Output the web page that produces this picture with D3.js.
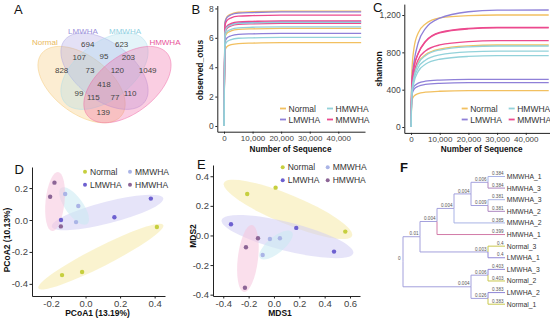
<!DOCTYPE html>
<html lang="en">
<head>
<meta charset="utf-8">
<title>OTU overlap, rarefaction, ordination and clustering</title>
<style>
  html,body { margin:0; padding:0; background:#fff; }
  svg { display:block; font-family:"Liberation Sans", Arial, sans-serif; }
</style>
<script src="https://d3js.org/d3.v7.min.js"></script>
</head>
<body>
<svg width="550" height="320"></svg>
<script>
// ---- data ----
const groups = ["Normal", "LMWHA", "MMWHA", "HMWHA"];

// A: venn counts and where they sit (venn units, 0..1)
const vennCounts = [828, 694, 623, 1049, 107, 95, 203, 73, 120, 418, 99, 115, 77, 110, 139];
const vennU = [0.220, 0.390, 0.612, 0.782, 0.335, 0.497, 0.656, 0.405, 0.584, 0.497, 0.333, 0.427, 0.569, 0.667, 0.492];
const vennV = [0.579, 0.771, 0.771, 0.579, 0.674, 0.683, 0.674, 0.579, 0.579, 0.472, 0.405, 0.375, 0.375, 0.405, 0.263];

// B / C: rarefaction, sequencing depth vs index, 3 samples per group
const depths = [0, 300, 1000, 2500, 5000, 10000, 20000, 30000, 48000];
const otusNormal = [
  [0, 7.04, 7.43, 7.62, 7.74, 7.78, 7.82, 7.82, 7.82],
  [0, 5.98, 6.31, 6.47, 6.57, 6.61, 6.64, 6.64, 6.64],
  [0, 5.10, 5.39, 5.53, 5.61, 5.64, 5.67, 5.67, 5.67]];
const otusLMWHA = [
  [0, 6.98, 7.37, 7.57, 7.68, 7.72, 7.76, 7.76, 7.76],
  [0, 6.38, 6.74, 6.91, 7.02, 7.05, 7.09, 7.09, 7.09],
  [0, 5.67, 5.99, 6.14, 6.24, 6.27, 6.30, 6.30, 6.30]];
const otusMMWHA = [
  [0, 6.80, 7.17, 7.36, 7.47, 7.51, 7.55, 7.55, 7.55],
  [0, 6.44, 6.80, 6.98, 7.09, 7.12, 7.16, 7.16, 7.16],
  [0, 6.28, 6.63, 6.81, 6.91, 6.95, 6.98, 6.98, 6.98]];
const otusHMWHA = [
  [0, 6.35, 6.70, 6.87, 6.98, 7.01, 7.05, 7.05, 7.05],
  [0, 6.08, 6.41, 6.58, 6.68, 6.72, 6.75, 6.75, 6.75],
  [0, 5.43, 5.73, 5.88, 5.97, 6.00, 6.03, 6.03, 6.03]];

const shannonNormal = [
  [0, 600, 840, 1008, 1104, 1170, 1194, 1200, 1200],
  [0, 396, 545, 686, 774, 835, 870, 879, 879],
  [0, 280, 331, 358, 373, 383, 389, 389, 389]];
const shannonLMWHA = [
  [0, 502, 690, 903, 1053, 1166, 1235, 1252, 1254],
  [0, 368, 434, 470, 491, 503, 511, 511, 511],
  [0, 342, 404, 437, 456, 468, 475, 475, 475]];
const shannonMMWHA = [
  [0, 481, 641, 790, 918, 1015, 1057, 1068, 1068],
  [0, 478, 637, 786, 913, 1009, 1051, 1062, 1062],
  [0, 416, 574, 722, 814, 879, 916, 925, 925]];
const shannonHMWHA = [
  [0, 390, 538, 677, 764, 825, 859, 868, 868],
  [0, 366, 505, 635, 716, 773, 806, 814, 814],
  [0, 344, 474, 596, 672, 726, 756, 764, 764]];

// D: PCoA scores (3 samples per group, same order as groups)
const pcoaX = [[0.413, -0.020, -0.136], [0.378, 0.167, -0.142], [-0.118, -0.042, -0.055], [-0.180, -0.205, -0.143]];
const pcoaY = [[-0.044, -0.326, -0.345], [0.134, 0.017, 0.000], [0.163, 0.088, -0.013], [0.234, 0.146, -0.040]];
// group ellipses: long-axis end points in score units + width ratio
const pcoaHull = [
  [-0.273, -0.428, 0.450, -0.031, 0.14],
  [-0.195, -0.042, 0.450, 0.136, 0.19],
  [-0.142, 0.201, 0.009, -0.025, 0.40],
  [-0.159, 0.301, -0.194, -0.069, 0.32]];

// E: NMDS scores
const mdsX = [[-0.211, 0.013, 0.563], [-0.339, 0.176, 0.474], [-0.032, 0.047, -0.089], [-0.126, -0.221, -0.229]];
const mdsY = [[0.280, 0.323, 0.026], [0.076, 0.051, -0.109], [-0.024, -0.019, -0.132], [-0.019, -0.080, -0.353]];
const mdsHull = [
  [-0.395, 0.355, 0.616, -0.003, 0.21],
  [-0.413, 0.105, 0.626, -0.120, 0.21],
  [-0.110, -0.152, 0.142, 0.024, 0.40],
  [-0.174, 0.071, -0.237, -0.382, 0.30]];

// F: clustering tree, branch lengths shown as labels
const treeData = {len: "0", children: [
  {len: "0.01", children: [
    {len: "0.004", children: [
      {len: "0.004", children: [
        {len: "0.004", children: [
          {len: "0.006", children: [{name: "MMWHA_1", len: "0.384"}, {name: "HMWHA_3", len: "0.384"}]},
          {len: "0.009", children: [{name: "MMWHA_3", len: "0.381"}, {name: "HMWHA_2", len: "0.381"}]}
        ]},
        {name: "MMWHA_2", len: "0.385"}
      ]},
      {name: "HMWHA_1", len: "0.399"}
    ]},
    {len: "0.003", children: [{name: "Normal_3", len: "0.4"}, {name: "LMWHA_1", len: "0.4"}]}
  ]},
  {len: "0.004", children: [
    {len: "0.006", children: [{name: "LMWHA_3", len: "0.403"}, {name: "Normal_2", len: "0.403"}]},
    {len: "0.026", children: [{name: "LMWHA_2", len: "0.383"}, {name: "Normal_1", len: "0.383"}]}
  ]}
]};

// ---- colours ----
const vennFill  = {Normal: "#f4c36a", LMWHA: "#a59ce0", MMWHA: "#a6dcea", HMWHA: "#ee5c9e"};
const vennLabel = {Normal: "#eab95c", LMWHA: "#9b90da", MMWHA: "#8fd0e2", HMWHA: "#e8559a"};
const lineCol   = {Normal: "#f2c060", LMWHA: "#8f80d8", MMWHA: "#ec4a8e", HMWHA: "#93d2da"};
const dotCol    = {Normal: "#c6cf3e", LMWHA: "#6d60d0", MMWHA: "#aab4e6", HMWHA: "#8c6596"};
const hullCol   = {Normal: "#f6eaa8", LMWHA: "#d2cdf4", MMWHA: "#c8e9f2", HMWHA: "#f5c4dc"};
const treeCol   = {Normal: "#c9c84e", LMWHA: "#8f86d6", MMWHA: "#a9b3e6", HMWHA: "#ad86c0", inner: "#a3a0dc"};

const svg = d3.select("svg");
const FONT = '"Liberation Sans", Arial, sans-serif';

function letter(t, x, y, bold) {
  svg.append("text").attr("x", x).attr("y", y).text(t)
    .attr("font-size", 13).attr("font-weight", bold ? "bold" : "normal").attr("fill", "#111");
}
function styleAxis(g, size) {
  g.attr("font-family", FONT).attr("font-size", size);
  g.select(".domain").attr("stroke", "#222").attr("stroke-width", 1);
  g.selectAll(".tick line").attr("stroke", "#222");
  g.selectAll(".tick text").attr("fill", "#444");
}
function title(t, x, y, rot, size) {
  svg.append("text").text(t).attr("font-size", size || 8.5).attr("font-weight", "bold")
    .attr("fill", "#111").attr("text-anchor", "middle")
    .attr("transform", `translate(${x},${y})` + (rot ? " rotate(-90)" : ""));
}

// ---- A: venn ----
const vx = d3.scaleLinear().domain([0, 1]).range([104.5 - 76.5, 104.5 + 76.5]);
const vy = d3.scaleLinear().domain([0.855, 0.185]).range([33, 122.8]);
const vennShape = [[0.35, 0.47, 135], [0.5, 0.57, 135], [0.5, 0.57, 45], [0.65, 0.47, 45]];
const ell = d3.line().curve(d3.curveLinearClosed);
vennShape.forEach(([cx, cy, rot], i) => {
  const th = rot * Math.PI / 180, pts = [];
  for (let k = 0; k < 90; k++) {
    const t = k / 90 * 2 * Math.PI;
    const u = cx + 0.35 * Math.cos(t) * Math.cos(th) - 0.2 * Math.sin(t) * Math.sin(th);
    const v = cy + 0.35 * Math.cos(t) * Math.sin(th) + 0.2 * Math.sin(t) * Math.cos(th);
    pts.push([vx(u), vy(v)]);
  }
  svg.append("path").attr("d", ell(pts))
    .attr("fill", vennFill[groups[i]]).attr("fill-opacity", 0.3)
    .attr("stroke", vennFill[groups[i]]).attr("stroke-opacity", 0.55).attr("stroke-width", 0.8);
});
const vennLabU = [0.110, 0.359, 0.634, 0.895], vennLabV = [0.790, 0.872, 0.872, 0.790];
groups.forEach((g, i) => {
  svg.append("text").attr("x", vx(vennLabU[i])).attr("y", vy(vennLabV[i]) + 3).text(g)
    .attr("text-anchor", "middle").attr("font-size", 8).attr("fill", vennLabel[g]);
});
vennCounts.forEach((c, i) => {
  svg.append("text").attr("x", vx(vennU[i])).attr("y", vy(vennV[i]) + 3).text(c)
    .attr("text-anchor", "middle").attr("font-size", 8).attr("fill", "#444");
});
letter("A", 14, 13.5);

// ---- B & C: rarefaction ----
function rarePanel(o) {
  const x = d3.scaleLinear().domain([-2350, 49350]).range(o.xr);
  const y = d3.scaleLinear().domain(o.yd).range(o.yr);
  const line = d3.line().x((d, i) => x(depths[i])).y(d => y(d)).curve(d3.curveMonotoneX);
  groups.forEach(g => o.series[g].forEach(s => {
    svg.append("path").attr("d", line(s)).attr("fill", "none")
      .attr("stroke", lineCol[g]).attr("stroke-width", 1.3);
  }));
  const gx = svg.append("g").attr("transform", `translate(0,${o.yr[0]})`)
    .call(d3.axisBottom(x).tickValues([0, 10000, 20000, 30000, 40000]).tickFormat(d3.format(","))
      .tickSize(2).tickSizeOuter(0).tickPadding(1.5));
  styleAxis(gx, 8);
  const gy = svg.append("g").attr("transform", `translate(${o.xr[0]},0)`)
    .call(d3.axisLeft(y).tickValues(o.yt).tickSize(2).tickSizeOuter(0).tickPadding(1.5));
  styleAxis(gy, 8.5);
  title("Number of Sequence", o.xt, 151.5, false, 8.2);
  title(o.ylab, o.ylx, o.yly, true);
  // legend
  const leg = [["Normal", 0, 0], ["HMWHA", 1, 0], ["LMWHA", 0, 1], ["MMWHA", 1, 1]];
  leg.forEach(([g, c, r]) => {
    const lx = o.lx + c * 47, ly = 108.5 + r * 11;
    svg.append("line").attr("x1", lx).attr("x2", lx + 6).attr("y1", ly).attr("y2", ly)
      .attr("stroke", lineCol[g]).attr("stroke-width", 1.8);
    svg.append("text").attr("x", lx + 8.5).attr("y", ly + 3).text(g)
      .attr("font-size", 8.5).attr("fill", "#333");
  });
}
rarePanel({xr: [217.3, 365], yd: [-0.39, 8.2], yr: [131.7, 5.5], yt: [0, 2, 4, 6, 8],
  series: {Normal: otusNormal, LMWHA: otusLMWHA, MMWHA: otusMMWHA, HMWHA: otusHMWHA},
  xt: 290.5, ylab: "observed_otus", ylx: 203, yly: 70, lx: 280});
rarePanel({xr: [404.3, 552.6], yd: [-63, 1317], yr: [132.9, 4.1], yt: [0, 400, 800, 1200],
  series: {Normal: shannonNormal, LMWHA: shannonLMWHA, MMWHA: shannonMMWHA, HMWHA: shannonHMWHA},
  xt: 481.7, ylab: "shannon", ylx: 382, yly: 69, lx: 461.7});
letter("B", 191.5, 13.5);
letter("C", 373, 12);

// ---- D & E: ordinations ----
function ordPanel(o) {
  const x = d3.scaleLinear().domain(o.xd).range(o.xr);
  const y = d3.scaleLinear().domain(o.yd).range(o.yr);
  groups.forEach((g, gi) => {
    const [a1, b1, a2, b2, w] = o.hull[gi];
    const x1 = x(a1), y1 = y(b1), x2 = x(a2), y2 = y(b2);
    const rx = Math.hypot(x2 - x1, y2 - y1) / 2;
    svg.append("ellipse").attr("cx", 0).attr("cy", 0).attr("rx", rx).attr("ry", rx * w)
      .attr("transform", `translate(${(x1 + x2) / 2},${(y1 + y2) / 2}) rotate(${Math.atan2(y2 - y1, x2 - x1) * 180 / Math.PI})`)
      .attr("fill", hullCol[g]).attr("fill-opacity", 0.55);
  });
  groups.forEach((g, gi) => {
    svg.selectAll(null).data(o.px[gi].map((v, i) => [v, o.py[gi][i]])).enter().append("circle")
      .attr("cx", d => x(d[0])).attr("cy", d => y(d[1])).attr("r", 2.2).attr("fill", dotCol[g]);
  });
  const fmt = d => d.toFixed(1);
  const gx = svg.append("g").attr("transform", `translate(0,${o.yr[0]})`)
    .call(d3.axisBottom(x).tickValues(o.xt).tickFormat(fmt).tickSize(2.5).tickSizeOuter(0).tickPadding(1.5));
  styleAxis(gx, 9.5);
  const gy = svg.append("g").attr("transform", `translate(${o.xr[0]},0)`)
    .call(d3.axisLeft(y).tickValues(o.yt).tickFormat(fmt).tickSize(2.5).tickSizeOuter(0).tickPadding(1.5));
  styleAxis(gy, 9.5);
  title(o.xlab, o.xlx, 316);
  title(o.ylab, o.ylx, o.yly, true);
  const leg = [["Normal", 0, 0], ["MMWHA", 1, 0], ["LMWHA", 0, 1], ["HMWHA", 1, 1]];
  leg.forEach(([g, c, r]) => {
    const lx = o.lx + c * 45, ly = o.ly + r * 13;
    svg.append("circle").attr("cx", lx).attr("cy", ly).attr("r", 2).attr("fill", dotCol[g]);
    svg.append("text").attr("x", lx + 5).attr("y", ly + 3).text(g)
      .attr("font-size", 8.5).attr("fill", "#333");
  });
}
ordPanel({xd: [-0.31, 0.46], xr: [32, 165], yd: [-0.476, 0.332], yr: [296, 167],
  xt: [-0.2, 0, 0.2, 0.4], yt: [-0.4, -0.2, 0, 0.2], hull: pcoaHull, px: pcoaX, py: pcoaY,
  xlab: "PCoA1 (13.19%)", xlx: 97.5, ylab: "PCoA2 (10.13%)", ylx: 10, yly: 240, lx: 85, ly: 171.7});
ordPanel({xd: [-0.481, 0.679], xr: [213, 360], yd: [-0.409, 0.476], yr: [296, 165],
  xt: [-0.4, -0.2, 0, 0.2, 0.4, 0.6], yt: [-0.4, -0.2, 0, 0.2, 0.4], hull: mdsHull, px: mdsX, py: mdsY,
  xlab: "MDS1", xlx: 280, ylab: "MDS2", ylx: 196, yly: 236, lx: 282.7, ly: 167.3});
letter("D", 14.5, 173.5);
letter("E", 197, 169);

// ---- F: tree ----
const root = d3.hierarchy(treeData);
d3.cluster().size([12, 6]).separation(() => 1)(root);
const ty = d3.scaleLinear().domain([0.5, 11.5]).range([176.5, 304.2]);
const tx = d3.scaleLinear().domain([0, 6]).range([403, 505]);
const colOf = d => d.data.name ? treeCol[d.data.name.split("_")[0]] : treeCol.inner;
svg.append("g").selectAll("path").data(root.links()).enter().append("path")
  .attr("d", l => `M${tx(l.source.y)},${ty(l.source.x)}V${ty(l.target.x)}H${tx(l.target.y)}`)
  .attr("fill", "none").attr("stroke", l => l.target.data.name === "HMWHA_1" ? "#d27aa8" : colOf(l.target))
  .attr("stroke-width", 1);
svg.append("g").selectAll("text").data(root.descendants()).enter().append("text")
  .attr("x", d => d.parent ? tx(d.y) - 1.5 : tx(d.y) - 2.5)
  .attr("y", d => ty(d.x) - (d.parent ? 1.3 : 2))
  .attr("text-anchor", "end").attr("font-size", 4.6).attr("fill", "#555")
  .text(d => d.data.len);
svg.append("g").selectAll("text").data(root.leaves()).enter().append("text")
  .attr("x", tx(6) + 1.8).attr("y", d => ty(d.x) + 2.5)
  .attr("font-size", 6.8).attr("fill", "#333").text(d => d.data.name);
letter("F", 400, 172, true);
</script>
</body>
</html>
